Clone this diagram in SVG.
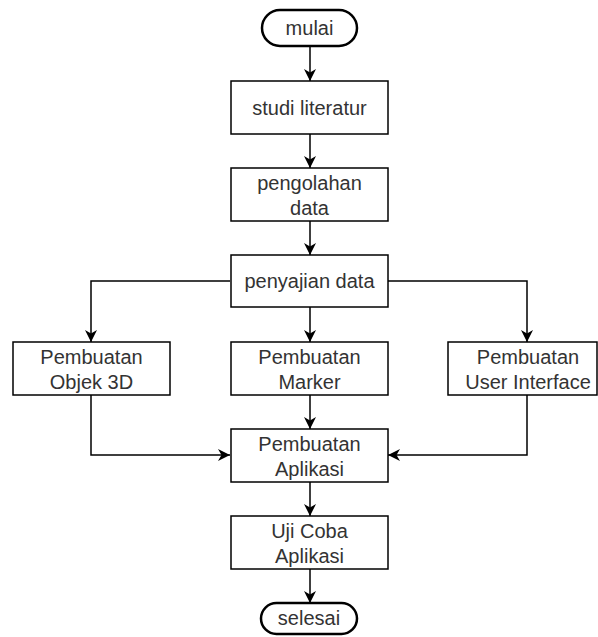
<svg xmlns="http://www.w3.org/2000/svg" width="598" height="637" viewBox="0 0 598 637">
<style>
.box{fill:#fff;stroke:#000;stroke-width:1.5}
.term{fill:#fff;stroke:#000;stroke-width:2.5}
.t{font-family:"Liberation Sans",Arial,sans-serif;font-size:20px;fill:#333;text-anchor:middle}
.c{fill:none;stroke:#000;stroke-width:1.5}
</style>
<defs>
<marker id="arr" viewBox="0 0 12 12" markerWidth="12" markerHeight="12" refX="12" refY="6" orient="auto" markerUnits="userSpaceOnUse">
<path d="M0,0 L12,6 L0,12 L3.5,6 z" fill="#000"/>
</marker>
</defs>
<rect width="598" height="637" fill="#fff"/>
<g id="connectors">
<path class="c" d="M310,47 V81" marker-end="url(#arr)"/>
<path class="c" d="M310,134 V168" marker-end="url(#arr)"/>
<path class="c" d="M310,221 V255" marker-end="url(#arr)"/>
<path class="c" d="M310,307 V342" marker-end="url(#arr)"/>
<path class="c" d="M230,281 H91 V342" marker-end="url(#arr)"/>
<path class="c" d="M388,281 H527 V342" marker-end="url(#arr)"/>
<path class="c" d="M310,395 V429" marker-end="url(#arr)"/>
<path class="c" d="M91,395 V455 H230" marker-end="url(#arr)"/>
<path class="c" d="M527,395 V455 H388" marker-end="url(#arr)"/>
<path class="c" d="M310,482 V516" marker-end="url(#arr)"/>
<path class="c" d="M310,569 V603" marker-end="url(#arr)"/>
</g>
<g id="mulai">
<rect class="term" x="262" y="10" width="95" height="36" rx="18"/>
<text class="t" x="309.5" y="35">mulai</text>
</g>
<g id="studi">
<rect class="box" x="231" y="81" width="157" height="53"/>
<text class="t" x="309.5" y="114.5">studi literatur</text>
</g>
<g id="pengolahan">
<rect class="box" x="231" y="168" width="157" height="53"/>
<text class="t" x="309.5" y="190">pengolahan</text>
<text class="t" x="309.5" y="215">data</text>
</g>
<g id="penyajian">
<rect class="box" x="231" y="255" width="157" height="52"/>
<text class="t" x="309.5" y="288">penyajian data</text>
</g>
<g id="objek3d">
<rect class="box" x="13" y="342" width="157" height="53"/>
<text class="t" x="91.5" y="363.5">Pembuatan</text>
<text class="t" x="91.5" y="388.5">Objek 3D</text>
</g>
<g id="marker">
<rect class="box" x="231" y="342" width="157" height="53"/>
<text class="t" x="309.5" y="363.5">Pembuatan</text>
<text class="t" x="309.5" y="388.5">Marker</text>
</g>
<g id="ui">
<rect class="box" x="448" y="342" width="149" height="53"/>
<text class="t" x="528" y="363.5">Pembuatan</text>
<text class="t" x="528" y="388.5">User Interface</text>
</g>
<g id="aplikasi">
<rect class="box" x="231" y="429" width="157" height="53"/>
<text class="t" x="309.5" y="450.5">Pembuatan</text>
<text class="t" x="309.5" y="475.5">Aplikasi</text>
</g>
<g id="ujicoba">
<rect class="box" x="231" y="516" width="157" height="53"/>
<text class="t" x="309.5" y="537.5">Uji Coba</text>
<text class="t" x="309.5" y="562.5">Aplikasi</text>
</g>
<g id="selesai">
<rect class="term" x="261" y="603" width="96" height="31" rx="15.5"/>
<text class="t" x="309" y="625">selesai</text>
</g>
</svg>
